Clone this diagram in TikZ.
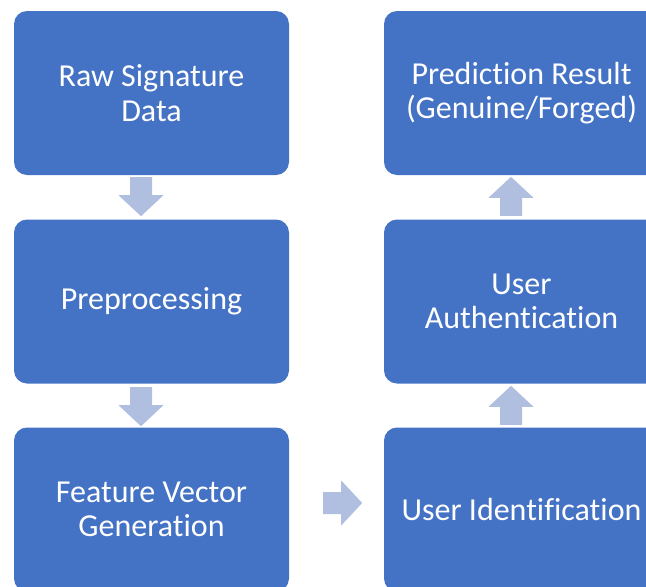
\documentclass[tikz,border=0pt]{standalone}
\usepackage{fontspec}
\setmainfont{Carlito}[Ligatures=NoCommon]
\usetikzlibrary{calc}
\definecolor{boxblue}{HTML}{4472C4}
\definecolor{arrowblue}{HTML}{B0BEE0}
\tikzset{
  stepbox/.style={fill=boxblue, rounded corners=13pt, minimum width=275pt,
    minimum height=164pt, text=white, font=\fontsize{32}{34.5}\selectfont,
    align=center, inner sep=0pt},
  flowarrow/.pic={\fill[arrowblue] (0pt,-11pt) -- (18pt,-11pt) -- (18pt,-22.5pt)
    -- (39pt,0pt) -- (18pt,22.5pt) -- (18pt,11pt) -- (0pt,11pt) -- cycle;}
}
\begin{document}
\begin{tikzpicture}[x=1pt,y=-1pt]
\useasboundingbox (0,0) rectangle (646,587);
\clip (0,0) rectangle (646,587);
\node[stepbox] (raw)  at (151.5,93)    {Raw Signature\\Data};
\node[stepbox] (pre)  at (151.5,301.5) {Preprocessing};
\node[stepbox] (feat) at (151.5,509.5) {Feature Vector\\Generation};
\node[stepbox] (uid)  at (521.5,509.5) {User Identification};
\node[stepbox] (auth) at (521.5,301.5) {User\\Authentication};
\node[stepbox] (pred) at (521.5,93)    {Prediction Result\\(Genuine/Forged)};
\pic[rotate=-90] at ($(raw.south)+(-10.5,2)$) {flowarrow};
\pic[rotate=-90] at ($(pre.south)+(-10.5,3.5)$) {flowarrow};
\pic at ($(feat.east)+(34,-6.5)$) {flowarrow};
\pic[rotate=90] at ($(uid.north)+(-10.5,-2.5)$) {flowarrow};
\pic[rotate=90] at ($(auth.north)+(-10.5,-3.5)$) {flowarrow};
\end{tikzpicture}
\end{document}
